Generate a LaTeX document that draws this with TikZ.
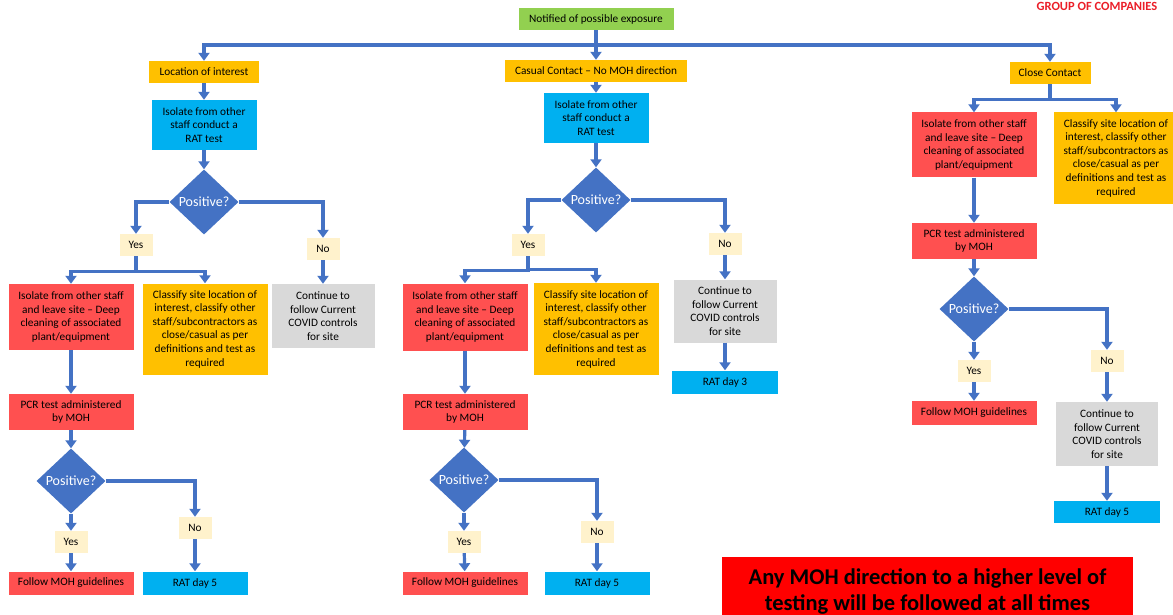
\documentclass[tikz,border=0pt]{standalone}
\usepackage{fontspec}
\setmainfont{Carlito}
\usepackage{tikz}
\usetikzlibrary{arrows.meta,shapes.geometric,positioning,calc}
\definecolor{flowblue}{RGB}{68,114,196}
\definecolor{startgreen}{RGB}{146,208,80}
\definecolor{amber}{RGB}{255,192,0}
\definecolor{ratcyan}{RGB}{0,176,240}
\definecolor{alertred}{RGB}{255,80,80}
\definecolor{softgrey}{RGB}{217,217,217}
\definecolor{answercream}{RGB}{255,242,204}
\definecolor{notered}{RGB}{255,0,0}
\definecolor{brandred}{RGB}{235,30,40}
\tikzstyle{arrow} = [line width=3.2pt,color=flowblue,-{Triangle[width=11pt,length=8pt]}]
\tikzstyle{stepbox} = [rectangle,align=center,inner sep=1pt,font=\fontsize{11.3}{13.6}\selectfont]
\tikzstyle{answer} = [stepbox,fill=answercream,minimum width=33pt,minimum height=22pt]
\tikzstyle{decision} = [diamond,aspect=1,fill=flowblue,text=white,inner sep=0pt,
  minimum width=69pt,minimum height=65pt,font=\fontsize{14}{15}\selectfont]

\begin{document}
\begin{tikzpicture}[x=1pt,y=-1pt]
\useasboundingbox (0,0) rectangle (1173,615);
\clip (0,0) rectangle (1173,615);
\fill[white] (0,0) rectangle (1173,615);

% header
\node[text=brandred,font=\fontsize{12.5}{14}\selectfont\bfseries] (brand) at (1097,6) {GROUP OF COMPANIES};
\node[stepbox,fill=startgreen,minimum width=155pt,minimum height=22pt] (notified) at (596,19) {Notified of possible exposure};

% three kinds of exposure
\node[stepbox,fill=amber,minimum width=110pt,minimum height=22pt] (loc) at (204,72) {Location of interest};
\node[stepbox,fill=amber,minimum width=182pt,minimum height=22pt] (casual) at (596,71) {Casual Contact -- No MOH direction};
\node[stepbox,fill=amber,minimum width=81pt,minimum height=22pt] (close) at (1050,73) {Close Contact};
\coordinate (topbar) at (596,45);

\draw[arrow] (notified.south) |- (topbar -| loc) -- (loc.north);
\draw[arrow] (notified.south) |- (topbar -| close) -- (close.north);
\draw[arrow] (notified) -- (casual);

% location of interest
\node[stepbox,fill=ratcyan,minimum width=105pt,minimum height=50pt] (ratL) at (204,125) {Isolate from other\\staff conduct a\\RAT test};
\node[decision] (diaL) at (204,202) {Positive?};
\node[answer] (yesL) at (136,245) {Yes};
\node[answer] (noL) at (323,249) {No};
\node[stepbox,fill=alertred,minimum width=125pt,minimum height=66pt] (isoL) at (71,317) {Isolate from other staff\\and leave site -- Deep\\cleaning of associated\\plant/equipment};
\node[stepbox,fill=amber,minimum width=125pt,minimum height=91pt] (clsL) at (205,329) {Classify site location of\\interest, classify other\\staff/subcontractors as\\close/casual as per\\definitions and test as\\required};
\node[stepbox,fill=softgrey,minimum width=103pt,minimum height=64pt] (contL) at (323,316) {Continue to\\follow Current\\COVID controls\\for site};
\node[stepbox,fill=alertred,minimum width=125pt,minimum height=36pt] (pcrL) at (71,412) {PCR test administered\\by MOH};
\node[decision] (diaL2) at (71,481) {Positive?};
\node[answer] (yesL2) at (71,542) {Yes};
\node[stepbox,fill=alertred,minimum width=125pt,minimum height=23pt] (folL) at (71,583) {Follow MOH guidelines};
\node[answer] (noL2) at (195,528) {No};
\node[stepbox,fill=ratcyan,minimum width=105pt,minimum height=23pt] (ratL5) at (195,583) {RAT day 5};

\draw[arrow] (loc) -- (ratL);
\draw[arrow] (ratL) -- (diaL);
\draw[arrow] (diaL.west) -| (yesL);
\draw[arrow] (diaL.east) -| (noL);
\draw[arrow] (yesL.south) |- ($(isoL.north)+(0,-12)$) -- (isoL.north);
\draw[arrow] (yesL.south) |- ($(clsL.north)+(0,-12)$) -- (clsL.north);
\draw[arrow] (noL) -- (contL);
\draw[arrow] (isoL) -- (pcrL);
\draw[arrow] (pcrL) -- (diaL2);
\draw[arrow] (diaL2) -- (yesL2);
\draw[arrow] (yesL2) -- (folL);
\draw[arrow] (diaL2.east) -| (noL2);
\draw[arrow] (noL2) -- (ratL5);

% casual contact
\node[stepbox,fill=ratcyan,minimum width=105pt,minimum height=50pt] (ratM) at (596,118) {Isolate from other\\staff conduct a\\RAT test};
\node[decision] (diaM) at (596,200) {Positive?};
\node[answer] (yesM) at (528,245) {Yes};
\node[answer] (noM) at (725,244) {No};
\node[stepbox,fill=alertred,minimum width=125pt,minimum height=67pt] (isoM) at (465,317) {Isolate from other staff\\and leave site -- Deep\\cleaning of associated\\plant/equipment};
\node[stepbox,fill=amber,minimum width=125pt,minimum height=92pt] (clsM) at (596,329) {Classify site location of\\interest, classify other\\staff/subcontractors as\\close/casual as per\\definitions and test as\\required};
\node[stepbox,fill=softgrey,minimum width=103pt,minimum height=63pt] (contM) at (725,311) {Continue to\\follow Current\\COVID controls\\for site};
\node[stepbox,fill=ratcyan,minimum width=106pt,minimum height=23pt] (ratM3) at (725,382) {RAT day 3};
\node[stepbox,fill=alertred,minimum width=125pt,minimum height=36pt] (pcrM) at (465,412) {PCR test administered\\by MOH};
\node[decision] (diaM2) at (464,480) {Positive?};
\node[answer] (yesM2) at (464,542) {Yes};
\node[stepbox,fill=alertred,minimum width=125pt,minimum height=23pt] (folM) at (465,583) {Follow MOH guidelines};
\node[answer] (noM2) at (597,532) {No};
\node[stepbox,fill=ratcyan,minimum width=105pt,minimum height=23pt] (ratM5) at (597,583) {RAT day 5};

\draw[arrow] (casual) -- (ratM);
\draw[arrow] (ratM) -- (diaM);
\draw[arrow] (diaM.west) -| (yesM);
\draw[arrow] (diaM.east) -| (noM);
\draw[arrow] (yesM.south) |- ($(isoM.north)+(0,-13)$) -- (isoM.north);
\draw[arrow] (yesM.south) |- ($(clsM.north)+(0,-13)$) -- (clsM.north);
\draw[arrow] (noM) -- (contM);
\draw[arrow] (contM) -- (ratM3);
\draw[arrow] (isoM) -- (pcrM);
\draw[arrow] (pcrM) -- (diaM2);
\draw[arrow] (diaM2) -- (yesM2);
\draw[arrow] (yesM2) -- (folM);
\draw[arrow] (diaM2.east) -| (noM2);
\draw[arrow] (noM2) -- (ratM5);

% close contact
\node[stepbox,fill=alertred,minimum width=125pt,minimum height=65pt] (isoR) at (974,145) {Isolate from other staff\\and leave site -- Deep\\cleaning of associated\\plant/equipment};
\node[stepbox,fill=amber,minimum width=125pt,minimum height=91pt] (clsR) at (1116,158) {Classify site location of\\interest, classify other\\staff/subcontractors as\\close/casual as per\\definitions and test as\\required};
\node[stepbox,fill=alertred,minimum width=125pt,minimum height=36pt] (pcrR) at (974,241) {PCR test administered\\by MOH};
\node[decision] (diaR) at (974,309) {Positive?};
\node[answer] (yesR) at (974,371) {Yes};
\node[answer] (noR) at (1107,361) {No};
\node[stepbox,fill=alertred,minimum width=125pt,minimum height=24pt] (folR) at (974,413) {Follow MOH guidelines};
\node[stepbox,fill=softgrey,minimum width=102pt,minimum height=64pt] (contR) at (1107,434) {Continue to\\follow Current\\COVID controls\\for site};
\node[stepbox,fill=ratcyan,minimum width=106pt,minimum height=22pt] (ratR5) at (1107,512) {RAT day 5};

\draw[arrow] (close.south) |- ($(isoR.north)+(0,-13)$) -- (isoR.north);
\draw[arrow] (close.south) |- ($(clsR.north)+(0,-13)$) -- (clsR.north);
\draw[arrow] (isoR) -- (pcrR);
\draw[arrow] (pcrR) -- (diaR);
\draw[arrow] (diaR) -- (yesR);
\draw[arrow] (yesR) -- (folR);
\draw[arrow] (diaR.east) -| (noR);
\draw[arrow] (noR) -- (contR);
\draw[arrow] (contR) -- (ratR5);

% note
\node[fill=notered,minimum width=411pt,minimum height=68pt,anchor=north,align=center,
  font=\fontsize{22.5}{26}\selectfont\bfseries] (note) at (927.5,557) {Any MOH direction to a higher level of\\testing will be followed at all times};
\end{tikzpicture}
\end{document}
